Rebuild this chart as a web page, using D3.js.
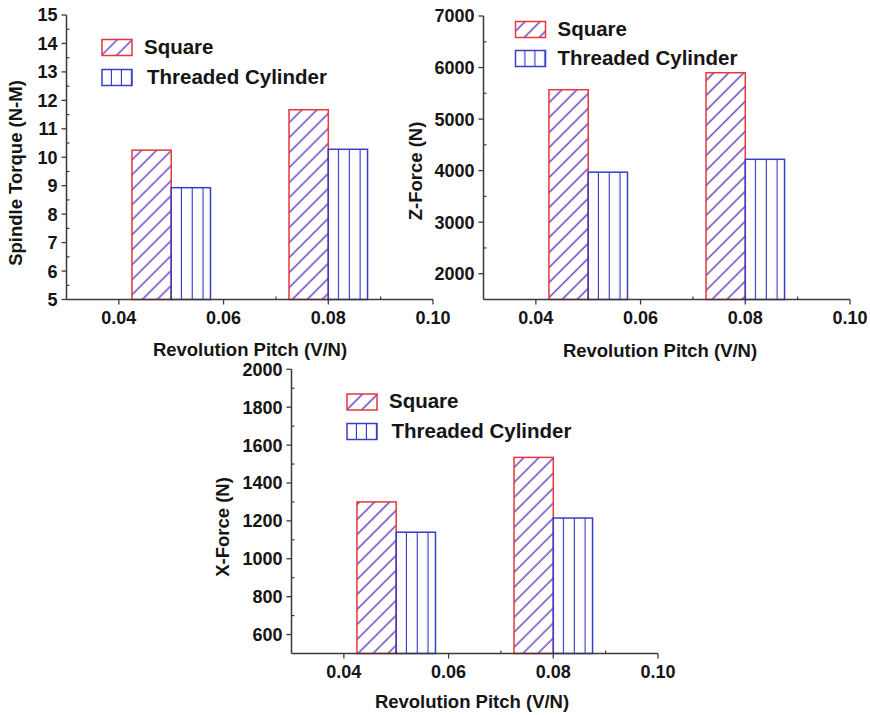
<!DOCTYPE html>
<html>
<head>
<meta charset="utf-8">
<script src="https://cdn.jsdelivr.net/npm/d3@7"></script>
<style>
  html, body { margin: 0; padding: 0; background: #fff; }
  svg { display: block; }
  text { font-family: "Liberation Sans", Arial, sans-serif; font-weight: bold; fill: #151515; }
</style>
</head>
<body>
<svg id="chart" width="870" height="715"></svg>
<script>
// ---------- DATA ----------
const pitches = [0.05, 0.08];
const seriesNames = ["Square", "Threaded Cylinder"];
const xTickValues = [0.04, 0.06, 0.08, 0.10];
const xMinorTicks = [0.05, 0.07, 0.09];

const torqueSquare = [10.25, 11.67];
const torqueThreaded = [8.93, 10.28];
const torqueTicks = [5, 6, 7, 8, 9, 10, 11, 12, 13, 14, 15];

const zSquare = [5570, 5900];
const zThreaded = [3970, 4220];
const zTicks = [2000, 3000, 4000, 5000, 6000, 7000];

const xfSquare = [1300, 1535];
const xfThreaded = [1140, 1215];
const xfTicks = [600, 800, 1000, 1200, 1400, 1600, 1800, 2000];

const xTitle = "Revolution Pitch (V/N)";

// ---------- STYLE ----------
const RED = "#e8363a", PURPLE = "#6a3cc4", BLUE = "#3a3ccc", AXIS = "#3a3a3a";
const barWidth = 0.0075;

const svg = d3.select("#chart");
const defs = svg.append("defs");
let pid = 0;

function diagPattern() {
  const id = "diag" + (pid++);
  const p = defs.append("pattern").attr("id", id)
    .attr("patternUnits", "userSpaceOnUse")
    .attr("width", 10.6).attr("height", 10.6)
    .attr("patternTransform", "rotate(45)");
  p.append("line").attr("x1", 5).attr("x2", 5).attr("y1", -1).attr("y2", 12)
    .attr("stroke", PURPLE).attr("stroke-width", 1.4);
  return id;
}
function vertPattern(x0, step) {
  const id = "vert" + (pid++);
  const p = defs.append("pattern").attr("id", id)
    .attr("patternUnits", "userSpaceOnUse")
    .attr("x", x0).attr("y", 0)
    .attr("width", step).attr("height", 20);
  p.append("line").attr("x1", step - 0.5).attr("x2", step - 0.5).attr("y1", -1).attr("y2", 21)
    .attr("stroke", BLUE).attr("stroke-width", 1.3);
  return id;
}

function panel(cfg) {
  const g = svg.append("g");
  const x = d3.scaleLinear().domain([0.03, 0.10]).range([cfg.x0, cfg.x1]);
  const y = d3.scaleLinear().domain(cfg.yDomain).range([cfg.yBottom, cfg.yTop]);
  const yMin = cfg.yDomain[0];

  // bars
  const diagId = diagPattern();
  pitches.forEach((p, i) => {
    const sx = x(p - barWidth), sw = x(p) - x(p - barWidth);
    g.append("rect").attr("x", sx).attr("y", y(cfg.square[i]))
      .attr("width", sw).attr("height", y(yMin) - y(cfg.square[i]))
      .attr("fill", `url(#${diagId})`);
    g.append("rect").attr("x", sx).attr("y", y(cfg.square[i]))
      .attr("width", sw).attr("height", y(yMin) - y(cfg.square[i]))
      .attr("fill", "none").attr("stroke", RED).attr("stroke-width", 1.5);
    const tx = x(p), tw = x(p + barWidth) - x(p);
    const vId = vertPattern(tx, 10.8);
    g.append("rect").attr("x", tx).attr("y", y(cfg.threaded[i]))
      .attr("width", tw).attr("height", y(yMin) - y(cfg.threaded[i]))
      .attr("fill", `url(#${vId})`)
      .attr("stroke", BLUE).attr("stroke-width", 1.5);
  });

  // axes lines
  g.append("line").attr("x1", cfg.x0).attr("x2", cfg.x0).attr("y1", cfg.yTop).attr("y2", cfg.yBottom)
    .attr("stroke", AXIS).attr("stroke-width", 1.5);
  g.append("line").attr("x1", cfg.x0).attr("x2", cfg.x1).attr("y1", cfg.yBottom).attr("y2", cfg.yBottom)
    .attr("stroke", AXIS).attr("stroke-width", 1.5);

  // y ticks
  const ticks = cfg.yTicks;
  const step = ticks[1] - ticks[0];
  ticks.forEach(t => {
    g.append("line").attr("x1", cfg.x0 - 5).attr("x2", cfg.x0).attr("y1", y(t)).attr("y2", y(t))
      .attr("stroke", AXIS).attr("stroke-width", 1.3);
    g.append("text").attr("x", cfg.x0 - 9).attr("y", y(t)).attr("dy", "0.36em")
      .attr("text-anchor", "end").attr("font-size", 18).text(t);
  });
  const minors = [];
  for (let v = ticks[0] - step / 2; v < cfg.yDomain[1]; v += step) {
    if (v > yMin) minors.push(v);
  }
  minors.forEach(v => {
    g.append("line").attr("x1", cfg.x0).attr("x2", cfg.x0 + 3).attr("y1", y(v)).attr("y2", y(v))
      .attr("stroke", AXIS).attr("stroke-width", 1.2);
  });

  // x ticks
  xTickValues.forEach(t => {
    g.append("line").attr("x1", x(t)).attr("x2", x(t)).attr("y1", cfg.yBottom).attr("y2", cfg.yBottom + 5)
      .attr("stroke", AXIS).attr("stroke-width", 1.3);
    g.append("text").attr("x", x(t)).attr("y", cfg.yBottom + 24)
      .attr("text-anchor", "middle").attr("font-size", 18).text(d3.format(".2f")(t));
  });
  xMinorTicks.forEach(t => {
    g.append("line").attr("x1", x(t)).attr("x2", x(t)).attr("y1", cfg.yBottom).attr("y2", cfg.yBottom - 3)
      .attr("stroke", AXIS).attr("stroke-width", 1.2);
  });

  // titles
  g.append("text").attr("x", cfg.xTitleX).attr("y", cfg.xTitleY)
    .attr("text-anchor", "middle").attr("font-size", 18.5).text(xTitle);
  g.append("text")
    .attr("transform", `translate(${cfg.yTitleX},${cfg.yTitleY}) rotate(-90)`)
    .attr("text-anchor", "middle").attr("font-size", 18.5).text(cfg.yTitle);

  // legend
  const L = cfg.legend;
  const dId = diagPattern();
  g.append("rect").attr("x", L.x).attr("y", L.y1).attr("width", 30).attr("height", 16)
    .attr("fill", `url(#${dId})`).attr("stroke", RED).attr("stroke-width", 1.5);
  g.append("text").attr("x", L.tx1).attr("y", L.y1 + 14).attr("font-size", 20.5).text(seriesNames[0]);
  const lvId = vertPattern(L.x, 10);
  g.append("rect").attr("x", L.x).attr("y", L.y2).attr("width", 30).attr("height", 16)
    .attr("fill", `url(#${lvId})`).attr("stroke", BLUE).attr("stroke-width", 1.5);
  g.append("text").attr("x", L.tx2).attr("y", L.y2 + 14).attr("font-size", 20.5).text(seriesNames[1]);
}

panel({
  x0: 66.5, x1: 433, yTop: 15, yBottom: 299.5, yDomain: [5, 15], yTicks: torqueTicks,
  square: torqueSquare, threaded: torqueThreaded,
  yTitle: "Spindle Torque (N-M)", yTitleX: 22, yTitleY: 173,
  xTitleX: 250, xTitleY: 356,
  legend: { x: 102, y1: 39.5, y2: 69.5, tx1: 144, tx2: 147 }
});

panel({
  x0: 483.5, x1: 850, yTop: 16, yBottom: 299.5, yDomain: [1500, 7000], yTicks: zTicks,
  square: zSquare, threaded: zThreaded,
  yTitle: "Z-Force (N)", yTitleX: 422, yTitleY: 171,
  xTitleX: 660, xTitleY: 357,
  legend: { x: 515.5, y1: 21.5, y2: 50.5, tx1: 557.5, tx2: 557.5 }
});

panel({
  x0: 291.5, x1: 658, yTop: 369.3, yBottom: 653.5, yDomain: [500, 2000], yTicks: xfTicks,
  square: xfSquare, threaded: xfThreaded,
  yTitle: "X-Force (N)", yTitleX: 229, yTitleY: 527,
  xTitleX: 472, xTitleY: 708,
  legend: { x: 347, y1: 394, y2: 423.5, tx1: 389, tx2: 391.5 }
});
</script>
</body>
</html>
